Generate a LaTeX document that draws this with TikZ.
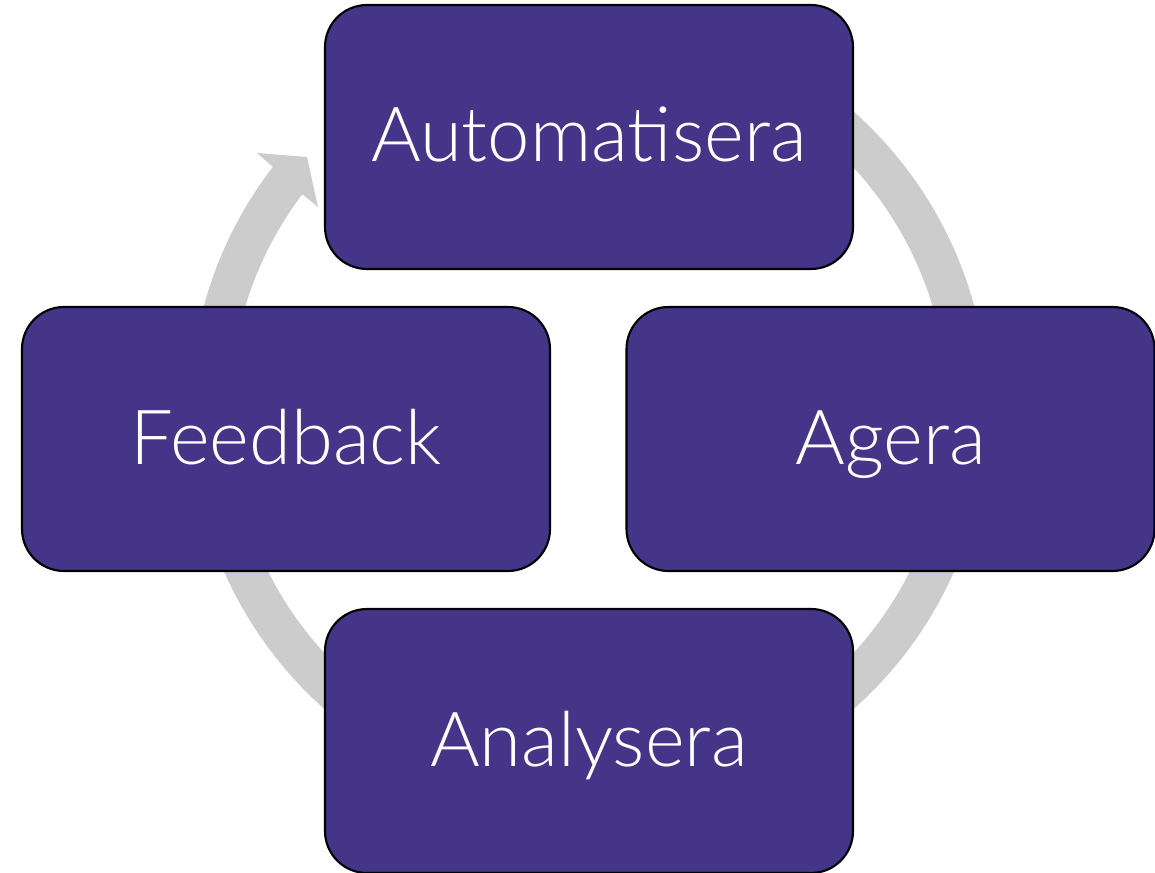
\documentclass[tikz,border=0pt]{standalone}
\usepackage{fontspec}
\setmainfont{Lato}[UprightFont=* Light]
\usetikzlibrary{calc}
\definecolor{boxpurple}{RGB}{68,53,137}
\definecolor{ringgray}{RGB}{204,204,204}
\tikzset{
  cyclebox/.style={draw=black, line width=1.6pt, fill=boxpurple, text=white,
    rounded corners=31.5pt, minimum width=396pt, minimum height=198pt,
    inner sep=0pt, text height=50pt, text depth=12.5pt,
    font=\fontsize{57}{68}\selectfont},
}
\begin{document}
\begin{tikzpicture}[x=0.75pt,y=-0.75pt]
\useasboundingbox (0,0) rectangle (1155,873);
\coordinate (c) at (589,410.3);
\coordinate (barbA) at (257,153);
\coordinate (tip) at (307,157);
\coordinate (barbB) at (318,207);
% circular arrow
\fill[ringgray] ($(c)+(-125:399)$) arc[start angle=-125, end angle=217.6, radius=399]
  -- (barbA) -- (tip) -- (barbB) -- ($(c)+(217:359)$)
  arc[start angle=217, end angle=-125, radius=359] -- cycle;
% boxes
\node[cyclebox] (auto) at (589,137) {Automatisera};
\node[cyclebox] (feed) at (286,439) {Feedback};
\node[cyclebox] (agera) at (890.5,439) {Agera};
\node[cyclebox] (anal) at (589,741) {Analysera};
\end{tikzpicture}
\end{document}
